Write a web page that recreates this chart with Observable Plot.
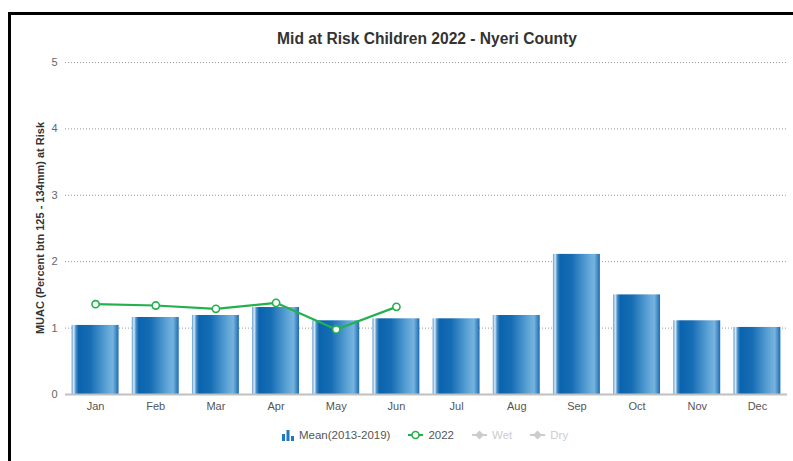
<!DOCTYPE html>
<html>
<head>
<meta charset="utf-8">
<script src="https://cdn.jsdelivr.net/npm/d3@7"></script>
<script src="https://cdn.jsdelivr.net/npm/@observablehq/plot@0.6"></script>
<style>
  html, body { margin: 0; padding: 0; background: #fff; overflow: hidden; width: 793px; height: 461px; }
  body { position: relative; font-family: "Liberation Sans", Arial, sans-serif; }
  #frame { position: absolute; left: 8px; top: 12px; width: 900px; height: 600px; border-left: 3px solid #000; border-top: 3px solid #000; }
  #chart { position: absolute; left: 0; top: 0; }
  #title { position: absolute; left: 0; width: 854px; top: 30px; text-align: center; font-size: 15.6px; font-weight: bold; color: #333; }
  #ylabel { position: absolute; left: 40px; top: 228px; transform: translate(-50%, -50%) rotate(-90deg); white-space: nowrap; font-size: 11px; font-weight: bold; color: #333; }
  #legend { position: absolute; top: 429px; left: 282px; display: flex; align-items: center; font-size: 11.5px; color: #555; white-space: nowrap; }
  .item { display: flex; align-items: center; margin-right: 18px; }
  .item svg { margin-right: 5px; }
  .off { color: #ccc; }
</style>
</head>
<body>
<div id="frame"></div>
<div id="chart"></div>
<div id="title">Mid at Risk Children 2022 - Nyeri County</div>
<div id="ylabel">MUAC (Percent btn 125 - 134mm) at Risk</div>
<div id="legend"></div>
<script>
const months = ["Jan","Feb","Mar","Apr","May","Jun","Jul","Aug","Sep","Oct","Nov","Dec"];
const meanValues = [1.04, 1.16, 1.19, 1.31, 1.11, 1.14, 1.14, 1.19, 2.11, 1.50, 1.11, 1.01];
const months2022 = ["Jan","Feb","Mar","Apr","May","Jun"];
const values2022 = [1.36, 1.34, 1.29, 1.38, 0.98, 1.32];
const yTicks = [0, 1, 2, 3, 4, 5];
const legendItems = [
  {name: "Mean(2013-2019)", kind: "bar", visible: true},
  {name: "2022", kind: "line", visible: true},
  {name: "Wet", kind: "diamond", visible: false},
  {name: "Dry", kind: "diamond", visible: false}
];

const meanData = months.map((m, i) => ({month: m, value: meanValues[i]}));
const data2022 = months2022.map((m, i) => ({month: m, value: values2022[i]}));
const green = "#22b14c";

const chart = Plot.plot({
  width: 793,
  height: 420,
  marginLeft: 65,
  marginRight: 6,
  marginTop: 62,
  marginBottom: 26,
  style: {fontFamily: "Liberation Sans, Arial, sans-serif", fontSize: "11px", color: "#666", background: "transparent"},
  x: {domain: months, paddingInner: 0.22, paddingOuter: 0.11, round: false, label: null},
  y: {domain: [0, 5], label: null},
  marks: [
    Plot.gridY(yTicks, {stroke: "#999", strokeOpacity: 1, strokeDasharray: "1,2", strokeWidth: 1}),
    Plot.barY(meanData, {x: "month", y: "value", fill: "url(#barGrad)", inset: 0}),
    Plot.ruleY([0], {stroke: "#c0c0c0", strokeWidth: 2}),
    Plot.line(data2022, {x: "month", y: "value", stroke: green, strokeWidth: 2.2}),
    Plot.dot(data2022, {x: "month", y: "value", r: 3.6, fill: "#fff", stroke: green, strokeWidth: 1.6}),
    Plot.axisX({tickSize: 0, tickPadding: 8, fill: "#555", fontSize: 11}),
    Plot.axisY(yTicks, {tickSize: 0, tickPadding: 8, fill: "#666", fontSize: 11, tickFormat: d3.format("d")})
  ]
});

const ns = "http://www.w3.org/2000/svg";
const defs = document.createElementNS(ns, "defs");
defs.innerHTML = `
<linearGradient id="barGrad" x1="0" x2="1" y1="0" y2="0">
  <stop offset="0" stop-color="#5a9ad0"/>
  <stop offset="0.045" stop-color="#dbeaf6"/>
  <stop offset="0.09" stop-color="#4a90cb"/>
  <stop offset="0.15" stop-color="#0a63ad"/>
  <stop offset="0.40" stop-color="#166db4"/>
  <stop offset="0.75" stop-color="#5ea4d6"/>
  <stop offset="0.88" stop-color="#76b3de"/>
  <stop offset="0.96" stop-color="#3a83c2"/>
  <stop offset="1" stop-color="#1d6aad"/>
</linearGradient>`;
chart.insertBefore(defs, chart.firstChild);
document.getElementById("chart").appendChild(chart);

const legend = document.getElementById("legend");
for (const it of legendItems) {
  const d = document.createElement("div");
  d.className = "item" + (it.visible ? "" : " off");
  let icon = "";
  if (it.kind === "bar") {
    icon = `<svg width="12" height="12"><rect x="0" y="5" width="3" height="7" fill="#1f78c1"/><rect x="4.5" y="1" width="3" height="11" fill="#1f78c1"/><rect x="9" y="7" width="3" height="5" fill="#1f78c1"/></svg>`;
  } else if (it.kind === "line") {
    icon = `<svg width="15" height="12"><line x1="0" x2="15" y1="6" y2="6" stroke="${green}" stroke-width="2"/><circle cx="7.5" cy="6" r="3.5" fill="#fff" stroke="${green}" stroke-width="1.6"/></svg>`;
  } else {
    icon = `<svg width="15" height="12"><line x1="0" x2="15" y1="6" y2="6" stroke="#ccc" stroke-width="2"/><path d="M7.5 1.5 L12 6 L7.5 10.5 L3 6 Z" fill="#ccc"/></svg>`;
  }
  d.innerHTML = icon + `<span>${it.name}</span>`;
  legend.appendChild(d);
}
</script>
</body>
</html>
